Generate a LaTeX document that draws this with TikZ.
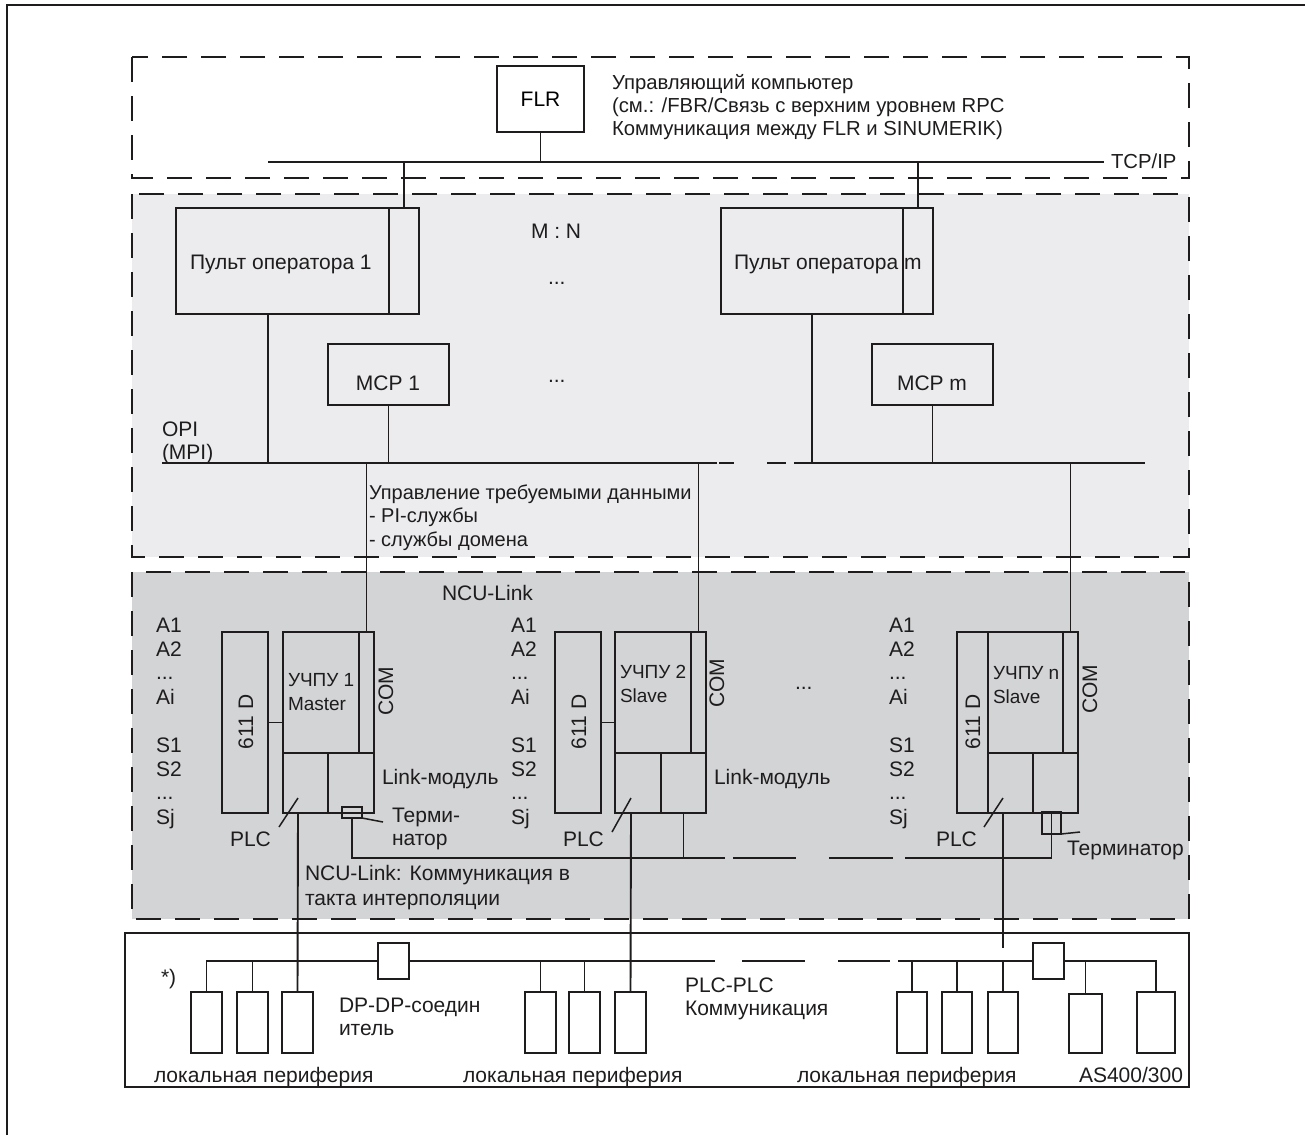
\documentclass[tikz,border=0pt]{standalone}
\usepackage{fontspec}
\setmainfont{Liberation Sans}
\usetikzlibrary{positioning, calc}
\definecolor{inkgray}{RGB}{30, 28, 29}
\definecolor{opizone}{RGB}{236, 236, 238}
\definecolor{ncuzone}{RGB}{211, 212, 214}
\newcommand{\threedots}{...}
% box between corners (x1,y1) and (x2,y2), pixel units
\newcommand{\unitbox}[6]{%
  \node[unit, minimum width={(#4-#2)*1pt}, minimum height={(#5-#3)*1pt}]
    (#1) at ({(#2+#4)/2},{(#3+#5)/2}) {#6};}

\begin{document}
\begin{tikzpicture}[
    x=1pt, y=-1pt,
    line width=1.9pt,
    font=\fontsize{21}{25}\selectfont,
    unit/.style={draw=inkgray, inner sep=0pt, outer sep=0pt, rectangle},
    wire/.style={draw=inkgray},
    zone/.style={draw=inkgray, dash pattern=on 25pt off 14pt},
    txt/.style={inner sep=0pt, outer sep=0pt, text=inkgray, anchor=base west},
    small/.style={font=\fontsize{19}{23}\selectfont},
    note/.style={font=\fontsize{20.3}{24}\selectfont},
    leader/.style={draw=inkgray, line width=1.5pt},
]
    \useasboundingbox (0,0) rectangle (1305,1135);
    \draw[wire] (7,1135) -- (7,5) -- (1305,5);

    % --- zones ---
    \fill[opizone] (132,194) rectangle (1189,557);
    \fill[ncuzone] (132,572) rectangle (1189,919);
    \draw[zone] (132,57) rectangle (1189,178);
    \draw[zone] (132,194) rectangle (1189,557);
    \draw[zone] (132,572) rectangle (1189,919);
    \draw[wire] (125,933) rectangle (1189,1087);

    % --- TOP: host computer ---
    \unitbox{flr}{497}{66}{584}{132}{FLR}
    \node[txt, note] (host1) at (612,89) {Управляющий компьютер};
    \node[txt, note] (host2) at (612,112) {(см.: /FBR/Связь с верхним уровнем RPC};
    \node[txt, note] (host3) at (612,135) {Коммуникация между FLR и SINUMERIK)};
    \coordinate (tcpW) at (268,162);
    \coordinate (tcpE) at (1104,162);
    \node[txt, note] (tcp) at (1111,168) {TCP/IP};
    \draw[wire] (tcpW) -- (tcpE);
    \draw[wire] (flr.south) -- (flr.south |- tcpW);

    % --- OPI: operator panels ---
    \unitbox{pult1}{176}{208}{389}{314}{}
    \unitbox{pult1p}{389}{208}{419}{314}{}
    \node[txt] (pult1t) at (190,269) {Пульт оператора 1};
    \unitbox{pultm}{721}{208}{903}{314}{}
    \unitbox{pultmp}{903}{208}{933}{314}{}
    \node[txt] (pultmt) at (734,269) {Пульт оператора m};
    \draw[wire] (pult1p.north) -- (pult1p.north |- tcpW);
    \draw[wire] (pultmp.north) -- (pultmp.north |- tcpW);
    \node[txt] (mn) at (531,238) {M : N};
    \node[txt] (dotsA) at (548,284) {...};
    \unitbox{mcp1}{328}{344}{449}{405}{}
    \node[txt, anchor=base] (mcp1t) at (388,390) {MCP 1};
    \unitbox{mcpm}{872}{344}{993}{405}{}
    \node[txt, anchor=base] (mcpmt) at (932,390) {MCP m};
    \node[txt] (dotsB) at (548,382) {...};
    \node[txt] (opi) at (162,436) {OPI};
    \node[txt] (mpi) at (162,459) {(MPI)};
    \coordinate (opiW) at (162,463);
    \coordinate (opiA) at (717,463);
    \coordinate (opiB) at (794,463);
    \coordinate (opiE) at (1145,463);
    \draw[wire] (opiW) -- (opiA);
    \draw[wire, dash pattern=on 0pt off 2pt on 15pt off 33pt on 19pt off 8pt] (opiA) -- (opiB);
    \draw[wire] (opiB) -- (opiE);
    \draw[wire] ($(pult1.south west)!0.43!(pult1.south east)$) -- ++(0,149);
    \draw[wire] (mcp1.south) -- (mcp1.south |- opiW);
    \draw[wire] (pultm.south) -- (pultm.south |- opiW);
    \draw[wire] (mcpm.south) -- (mcpm.south |- opiW);
    \node[txt, font=\fontsize{20}{24}\selectfont] (req1) at (369,499) {Управление требуемыми данными};
    \node[txt, font=\fontsize{20}{24}\selectfont] (req2) at (369,522) {- PI-службы};
    \node[txt, font=\fontsize{20}{24}\selectfont] (req3) at (369,546) {- службы домена};

    % --- NCU: control units ---
    \node[txt] (ncul) at (442,600) {NCU-Link};
    \foreach \cx/\cn in {156/a, 511/b, 889/c} {
        \foreach \t/\by [count=\k] in {A1/632, A2/656, \threedots/679, Ai/704, S1/752, S2/776, \threedots/799, Sj/824}
            \node[txt] (axis-\cn\k) at (\cx,\by) {\t};
    }
    % unit 1
    \unitbox{drv1}{222}{632}{268}{813}{}
    \node[txt, anchor=center, rotate=90] (drv1t) at (246,722) {611 D};
    \unitbox{cpu1}{283}{632}{359}{753}{}
    \unitbox{com1}{359}{632}{374}{753}{}
    \unitbox{plc1}{283}{753}{328}{813}{}
    \unitbox{lnk1}{328}{753}{374}{813}{}
    \draw[wire] (drv1.east) -- (drv1.east -| cpu1.west);
    \node[txt, small] (cpu1a) at (288,686) {УЧПУ 1};
    \node[txt, small] (cpu1b) at (288,710) {Master};
    \node[txt, anchor=center, rotate=90] (com1t) at (386,691) {COM};
    \node[txt] (lnk1t) at (382,784) {Link-модуль};
    \node[txt] (plc1t) at (230,846) {PLC};
    \coordinate (plc1a) at (279,827);
    \coordinate (plc1b) at (298,798);
    \draw[leader] (plc1a) -- (plc1b);
    \unitbox{term1}{342}{807}{362}{818}{}
    \coordinate (term1l) at (383,822);
    \draw[leader] (term1.south east) -- (term1l);
    \node[txt] (term1a) at (392,822) {Терми-};
    \node[txt] (term1b) at (392,845) {натор};
    \draw[wire] (com1.north) -- (com1.north |- opiW);
    % unit 2
    \unitbox{drv2}{555}{632}{601}{813}{}
    \node[txt, anchor=center, rotate=90] (drv2t) at (579,722) {611 D};
    \unitbox{cpu2}{615}{632}{691}{753}{}
    \unitbox{com2}{691}{632}{706}{753}{}
    \unitbox{plc2}{615}{753}{661}{813}{}
    \unitbox{lnk2}{661}{753}{706}{813}{}
    \draw[wire] (drv2.east) -- (drv2.east -| cpu2.west);
    \node[txt, small] (cpu2a) at (620,678) {УЧПУ 2};
    \node[txt, small] (cpu2b) at (620,702) {Slave};
    \node[txt, anchor=center, rotate=90] (com2t) at (717,683) {COM};
    \node[txt] (lnk2t) at (714,784) {Link-модуль};
    \node[txt] (plc2t) at (563,846) {PLC};
    \coordinate (plc2a) at (612,832);
    \coordinate (plc2b) at (631,798);
    \draw[leader] (plc2a) -- (plc2b);
    \draw[wire] (com2.north) -- (com2.north |- opiW);
    \node[txt] (dotsC) at (795,689) {...};
    % unit n
    \unitbox{drvn}{957}{632}{988}{813}{}
    \node[txt, anchor=center, rotate=90] (drvnt) at (973,722) {611 D};
    \unitbox{cpun}{988}{632}{1063}{753}{}
    \unitbox{comn}{1063}{632}{1078}{753}{}
    \unitbox{plcn}{988}{753}{1033}{813}{}
    \unitbox{lnkn}{1033}{753}{1078}{813}{}
    \node[txt, small] (cpuna) at (993,679) {УЧПУ n};
    \node[txt, small] (cpunb) at (993,703) {Slave};
    \node[txt, anchor=center, rotate=90] (comnt) at (1090,689) {COM};
    \node[txt] (plcnt) at (936,846) {PLC};
    \coordinate (plcna) at (984,827);
    \coordinate (plcnb) at (1003,798);
    \draw[leader] (plcna) -- (plcnb);
    \unitbox{termn}{1042}{812}{1061}{834}{}
    \coordinate (termnl) at (1080,832);
    \draw[leader] ([yshift=-11pt]termn.east) -- (termnl);
    \node[txt] (termnt) at (1067,855) {Терминатор};
    \draw[wire] (comn.north) -- (comn.north |- opiW);
    % NCU-Link ring
    \coordinate (nclA) at (725,858);
    \coordinate (nclB) at (905,858);
    \draw[wire] (term1.south) |- (nclA);
    \draw[wire, dash pattern=on 0pt off 8pt on 63pt off 33pt on 64pt off 12pt] (nclA) -- (nclB);
    \draw[wire] (nclB) -| (termn.north);
    \draw[wire] (lnk2.south) -- (lnk2.south |- nclA);
    \node[txt] (ncuc1) at (305,880) {NCU-Link: Коммуникация в};
    \node[txt] (ncuc2) at (305,905) {такта интерполяции};

    % --- BOTTOM: local periphery ---
    \foreach \px [count=\k] in {191,237,282} { \unitbox{per-a\k}{\px}{992}{\px+31}{1053}{} }
    \foreach \px [count=\k] in {525,569,615} { \unitbox{per-b\k}{\px}{992}{\px+31}{1053}{} }
    \foreach \px [count=\k] in {897,942,988} { \unitbox{per-c\k}{\px}{992}{\px+30}{1053}{} }
    \unitbox{as1}{1069}{994}{1102}{1053}{}
    \unitbox{as2}{1137}{992}{1175}{1053}{}
    \unitbox{dp1}{378}{943}{409}{979}{}
    \unitbox{dp2}{1033}{943}{1064}{979}{}
    \coordinate (busA) at (715,961);
    \coordinate (busB) at (898,961);
    \draw[wire] (per-a1.north) |- (dp1.west);
    \draw[wire] (per-a2.north) -- (per-a2.north |- dp1.west);
    \draw[wire] (dp1.east) -- (busA);
    \draw[wire, dash pattern=on 0pt off 27pt on 63pt off 33pt on 52pt off 8pt] (busA) -- (busB);
    \draw[wire] (busB) -- (dp2.west);
    \draw[wire] (dp2.east) -| (as2.north);
    \foreach \pn in {per-b1, per-b2, per-c1, per-c2, per-c3, as1}
        \draw[wire] (\pn.north) -- (\pn.north |- dp1.west);
    \draw[wire] (plc1.south -| plc1b) -- (per-a3.north);
    \draw[wire] (plc2.south -| plc2b) -- (per-b3.north);
    \coordinate (plcnE) at (1003,948);
    \draw[wire] (plcn.south -| plcnb) -- (plcnE);
    \node[txt] (star) at (161,984) {*)};
    \node[txt] (dpdp1) at (339,1012) {DP-DP-соедин};
    \node[txt] (dpdp2) at (339,1035) {итель};
    \node[txt] (plcplc1) at (685,992) {PLC-PLC};
    \node[txt] (plcplc2) at (685,1015) {Коммуникация};
    \node[txt] (loc1) at (154,1082) {локальная периферия};
    \node[txt] (loc2) at (463,1082) {локальная периферия};
    \node[txt] (loc3) at (797,1082) {локальная периферия};
    \node[txt] (as) at (1079,1082) {AS400/300};
\end{tikzpicture}
\end{document}
